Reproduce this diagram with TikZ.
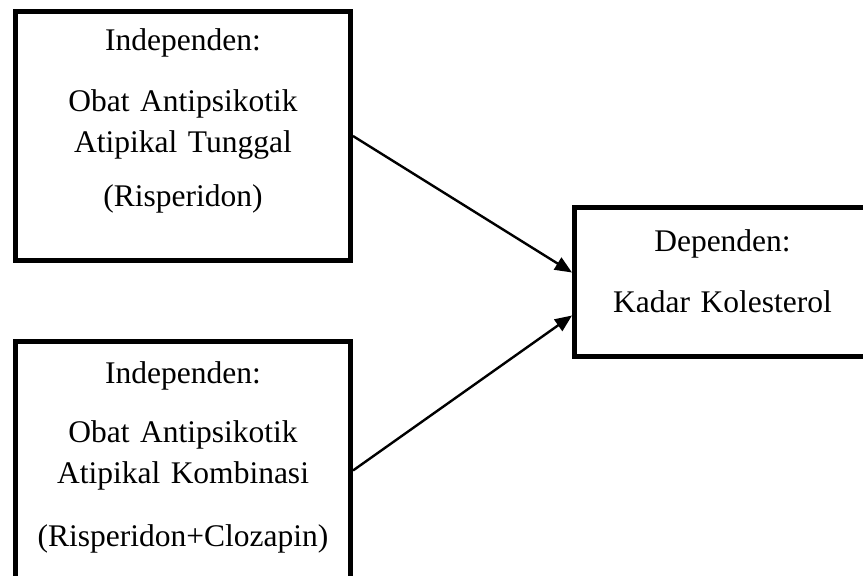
\documentclass[tikz,border=0pt]{standalone}
\usepackage{fontspec}
\setmainfont{Liberation Serif}
\usetikzlibrary{arrows.meta}

\begin{document}
\begin{tikzpicture}[x=0.5pt,y=-0.5pt,
  varbox/.style={draw=black, line width=2.5pt, inner sep=0pt, align=center,
    anchor=north west, font=\fontsize{15.75}{20.5}\selectfont},
  link/.style={line width=1.2pt, -{Triangle[length=8.5pt,width=7pt]}}]
\useasboundingbox (0,0) rectangle (863,575);
\clip (0,0) rectangle (863,575);
% variabel independen
\node[varbox, text width=167.5pt, text height=19.5pt, text depth=105pt] (indep1) at (13,9)
  {Independen:\\[10pt] Obat Antipsikotik\\ Atipikal Tunggal\\[6.5pt] (Risperidon)};
\node[varbox, text width=167.5pt, text height=21pt, text depth=108pt] (indep2) at (13,339)
  {Independen:\\[9pt] Obat Antipsikotik\\ Atipikal Kombinasi\\[11pt] (Risperidon+Clozapin)};
% variabel dependen
\node[varbox, text width=148pt, text height=22pt, text depth=52.5pt] (dep) at (572,205)
  {Dependen:\\[10pt] Kadar Kolesterol};
\draw[link] (indep1.east) -- ([yshift=4.75pt]dep.west);
\draw[link] (indep2.east) -- ([yshift=-16.75pt]dep.west);
\end{tikzpicture}
\end{document}
